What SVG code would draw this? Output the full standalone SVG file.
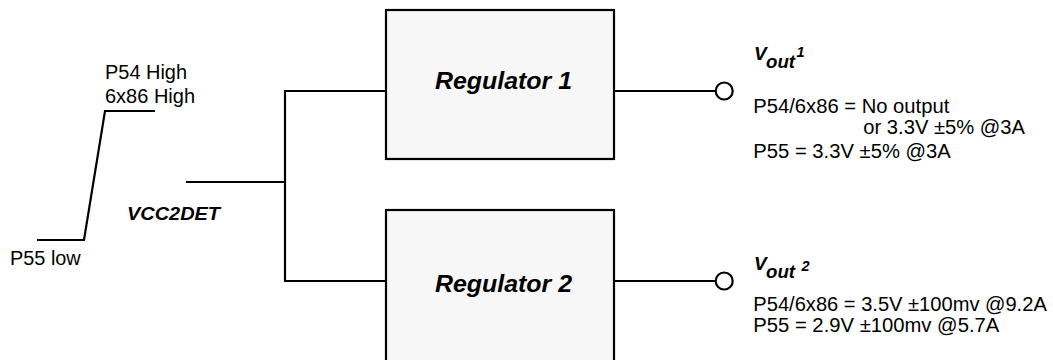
<svg xmlns="http://www.w3.org/2000/svg" width="1053" height="360" viewBox="0 0 1053 360">
<style>
.t{font-family:"Liberation Sans",Arial,sans-serif;font-size:19.5px;fill:#000}
.b{font-family:"Liberation Sans",Arial,sans-serif;font-weight:bold;font-style:italic;fill:#000}
.w{fill:none;stroke:#000;stroke-width:2.2}
.box{fill:#f7f7f7;stroke:#000;stroke-width:2.2}
.term{fill:#fff;stroke:#000;stroke-width:2.2}
</style>
<rect width="1053" height="360" fill="#fff"/>
<g id="connectors">
<polyline class="w" points="37,240 84,240 105,111 155,111" stroke-width="2.5"/>
<line class="w" x1="186" y1="182" x2="285" y2="182"/>
<line class="w" x1="285" y1="91" x2="285" y2="281"/>
<line class="w" x1="284" y1="91" x2="386" y2="91"/>
<line class="w" x1="284" y1="281" x2="386" y2="281"/>
<line class="w" x1="614" y1="91" x2="715.5" y2="91"/>
<line class="w" x1="614" y1="281" x2="715.5" y2="281"/>
</g>
<g id="signal-labels">
<text class="t" x="105" y="79" textLength="82" lengthAdjust="spacingAndGlyphs">P54 High</text>
<text class="t" x="105" y="103" textLength="90" lengthAdjust="spacingAndGlyphs">6x86 High</text>
<text class="t" x="10" y="265" textLength="70.7" lengthAdjust="spacingAndGlyphs">P55 low</text>
<text class="b" x="127" y="220" font-size="19" textLength="93" lengthAdjust="spacingAndGlyphs">VCC2DET</text>
</g>
<g id="regulator1">
<rect class="box" x="386" y="10" width="228" height="149"/>
<text class="b" x="435" y="89.3" font-size="24.7" textLength="137" lengthAdjust="spacingAndGlyphs">Regulator 1</text>
</g>
<g id="regulator2">
<rect class="box" x="386" y="210" width="228" height="160"/>
<text class="b" x="435" y="291.7" font-size="24.7" textLength="137" lengthAdjust="spacingAndGlyphs">Regulator 2</text>
</g>
<g id="vout1">
<circle class="term" cx="724.2" cy="91" r="8.5"/>
<text class="b" x="754" y="60" font-size="19">V</text>
<text class="b" x="766" y="68.3" font-size="18" textLength="29" lengthAdjust="spacingAndGlyphs">out</text>
<text class="b" x="796.5" y="56.7" font-size="14.5">1</text>
<text class="t" x="753.3" y="113.3" textLength="196" lengthAdjust="spacingAndGlyphs">P54/6x86 = No output</text>
<text class="t" x="863.3" y="134.3" textLength="161.7" lengthAdjust="spacingAndGlyphs">or 3.3V ±5% @3A</text>
<text class="t" x="753.3" y="158.3" textLength="197.5" lengthAdjust="spacingAndGlyphs">P55 = 3.3V ±5% @3A</text>
</g>
<g id="vout2">
<circle class="term" cx="724.2" cy="281" r="8.5"/>
<text class="b" x="754" y="270" font-size="19">V</text>
<text class="b" x="766" y="278.3" font-size="18" textLength="29" lengthAdjust="spacingAndGlyphs">out</text>
<text class="b" x="801.5" y="270.7" font-size="14.5">2</text>
<text class="t" x="753.3" y="310.7" textLength="293.5" lengthAdjust="spacingAndGlyphs">P54/6x86 = 3.5V ±100mv @9.2A</text>
<text class="t" x="753.3" y="331.7" textLength="246" lengthAdjust="spacingAndGlyphs">P55 = 2.9V ±100mv @5.7A</text>
</g>
</svg>
